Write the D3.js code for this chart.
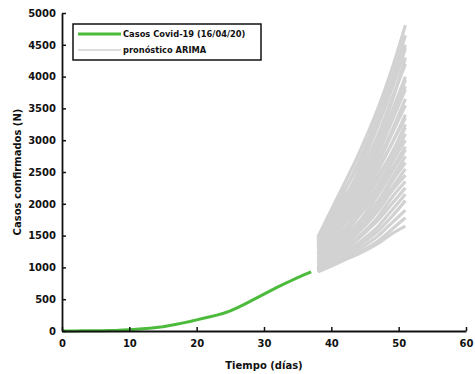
<!DOCTYPE html>
<html><head><meta charset="utf-8">
<script src="https://cdn.jsdelivr.net/npm/d3@7"></script>
<style>
body{margin:0;background:#fff;}
text{font-family:"DejaVu Sans",sans-serif;font-weight:bold;fill:#111;}
</style></head>
<body><svg id="c" width="475" height="374"></svg>
<script>
// Observed cumulative cases (day index 0..37)
const days = d3.range(0, 38);
const cases = [1,1,1,2,2,3,4,6,9,14,20,28,36,45,55,67,85,105,128,150,175,200,225,250,280,315,365,415,470,525,580,635,690,740,790,840,885,930];
// ARIMA forecast paths, values at these days
const fDays = [38, 41, 44, 47, 49, 51];
const forecasts = [
  [1480,2120,2770,3520,4120,4810],
  [1400,2000,2650,3400,3980,4650],
  [1450,2050,2600,3300,3850,4500],
  [1350,1900,2500,3250,3800,4450],
  [1420,1950,2450,3050,3600,4300],
  [1300,1800,2400,3100,3650,4200],
  [1250,1750,2300,2950,3450,4000],
  [1200,1700,2250,2900,3400,3950],
  [1380,1850,2350,2900,3350,3850],
  [1200,1650,2200,2800,3300,3800],
  [1320,1700,2150,2700,3150,3650],
  [1150,1600,2100,2650,3100,3550],
  [1280,1650,2050,2550,2950,3400],
  [1100,1550,2000,2550,2950,3350],
  [1220,1580,1950,2450,2800,3250],
  [1050,1450,1900,2400,2800,3200],
  [1180,1500,1850,2300,2700,3100],
  [1000,1400,1800,2250,2650,3000],
  [1130,1450,1800,2200,2550,2900],
  [980,1350,1700,2150,2500,2850],
  [1080,1380,1700,2050,2400,2750],
  [960,1300,1650,2000,2350,2650],
  [1030,1300,1600,1950,2250,2550],
  [950,1250,1550,1900,2200,2450],
  [1000,1220,1480,1800,2100,2350],
  [940,1180,1450,1750,2000,2250],
  [970,1150,1380,1650,1900,2150],
  [935,1120,1330,1580,1800,2050],
  [950,1100,1280,1500,1700,1900],
  [930,1070,1230,1420,1600,1780],
  [940,1080,1210,1380,1530,1650]
];
const xTicks = [0,10,20,30,40,50,60];
const yTicks = [0,500,1000,1500,2000,2500,3000,3500,4000,4500,5000];
const legendLabels = ["Casos Covid-19 (16/04/20)", "pronóstico ARIMA"];
const xLabel = "Tiempo (días)";
const yLabel = "Casos confirmados (N)";

const svg = d3.select("#c");
const x = d3.scaleLinear().domain([0,60]).range([62,466]);
const y = d3.scaleLinear().domain([0,5000]).range([331,13]);

// forecasts
const fLine = d3.line().x((d,i)=>x(fDays[i])).y(d=>y(d)).curve(d3.curveMonotoneX);
svg.append("g").selectAll("path").data(forecasts).join("path")
  .attr("d", fLine).attr("fill","none").attr("stroke","#d2d2d2").attr("stroke-width",3.2)
  .attr("stroke-linejoin","round");

// observed
const oLine = d3.line().x((d,i)=>x(days[i])).y(d=>y(d));
svg.append("path").datum(cases).attr("d", oLine)
  .attr("fill","none").attr("stroke","#4cbb3c").attr("stroke-width",3);

// axes
const fmt = d3.format("d");
const xa = svg.append("g").attr("transform","translate(0,331)")
  .call(d3.axisBottom(x).tickValues(xTicks).tickFormat(fmt).tickSizeInner(-4).tickSizeOuter(0).tickPadding(9));
const ya = svg.append("g").attr("transform","translate(62,0)")
  .call(d3.axisLeft(y).tickValues(yTicks).tickFormat(fmt).tickSizeInner(-4).tickSizeOuter(0).tickPadding(6));
[xa,ya].forEach(a=>{
  a.select(".domain").attr("stroke","#111").attr("stroke-width",1.8);
  a.selectAll(".tick line").attr("stroke","#111").attr("stroke-width",1.5);
  a.selectAll(".tick text").attr("font-size",10).attr("font-family","DejaVu Sans").attr("font-weight","bold").attr("fill","#111");
});

svg.append("text").attr("x",264).attr("y",369).attr("text-anchor","middle")
  .attr("font-size",10).text(xLabel);
svg.append("text").attr("transform","translate(21,172) rotate(-90)").attr("text-anchor","middle")
  .attr("font-size",10).text(yLabel);

// legend
const lg = svg.append("g");
lg.append("rect").attr("x",73).attr("y",24).attr("width",188).attr("height",36)
  .attr("fill","#fff").attr("stroke","#111").attr("stroke-width",1.5);
const lc = ["#4cbb3c","#d2d2d2"];
const lw = [3,1.6];
legendLabels.forEach((t,i)=>{
  const yy = 34 + i*16;
  lg.append("line").attr("x1",78).attr("x2",121).attr("y1",yy).attr("y2",yy)
    .attr("stroke",lc[i]).attr("stroke-width",lw[i]);
  lg.append("text").attr("x",123).attr("y",yy+3).attr("font-size",8.3).text(t);
});
</script></body></html>
